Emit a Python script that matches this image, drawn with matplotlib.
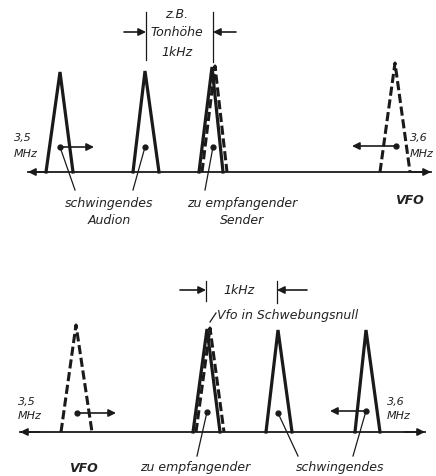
import matplotlib
matplotlib.use("Agg")
import matplotlib.pyplot as plt

# everything in image pixel coordinates (x right, y down)
W, H = 436, 476

# top panel: peaks (apex x, apex y, base left, base right, dashed?)
top_axis_y = 172
top_axis_x = [28, 431]
top_peak_x = [60, 145, 212, 215, 395]
top_peak_top = [72, 71, 67, 66, 63]
top_base_l = [46, 133, 199, 202, 380]
top_base_r = [73, 159, 223, 227, 410]
top_dashed = [False, False, False, True, True]

# bottom panel
bot_axis_y = 432
bot_axis_x = [20, 425]
bot_peak_x = [76, 207, 210, 278, 366]
bot_peak_top = [325, 329, 328, 330, 330]
bot_base_l = [61, 193, 196, 266, 355]
bot_base_r = [92, 220, 224, 292, 380]
bot_dashed = [True, False, True, False, False]

fig = plt.figure(figsize=(W / 100, H / 100), dpi=100)
ax = fig.add_axes([0, 0, 1, 1])
ax.set_xlim(0, W)
ax.set_ylim(H, 0)
ax.axis('off')

txt = dict(fontsize=9, style='italic', color='#222222', ha='center', va='center')
bold = dict(txt, fontweight='bold')
small = dict(txt, fontsize=8, ha='left')


def peaks(xs, tops, ls, rs, dashed, base_y):
    for x, t, l, r, d in zip(xs, tops, ls, rs, dashed):
        if d:
            ax.plot([l, x, r], [base_y, t, base_y], color='#1a1a1a', lw=2.2,
                    ls=(0, (3, 1.2)), solid_joinstyle='miter')
        else:
            ax.plot([l, x, r], [base_y, t, base_y], color='#1a1a1a', lw=2.3,
                    solid_joinstyle='miter')


def arrow(x0, y0, x1, y1, style='-|>', lw=1.2):
    ax.annotate('', xy=(x1, y1), xytext=(x0, y0),
                arrowprops=dict(arrowstyle=style, color='#1a1a1a', lw=lw,
                                mutation_scale=11, shrinkA=0, shrinkB=0))


def dot(x, y):
    ax.plot(x, y, 'o', color='#1a1a1a', ms=3.5)


def leader(x0, y0, x1, y1):
    ax.plot([x0, x1], [y0, y1], color='#1a1a1a', lw=0.9)


# ---------- top panel ----------
arrow(top_axis_x[0] + 20, top_axis_y, top_axis_x[0], top_axis_y)
arrow(top_axis_x[1] - 20, top_axis_y, top_axis_x[1], top_axis_y)
ax.plot(top_axis_x, [top_axis_y] * 2, color='#1a1a1a', lw=1.3)
peaks(top_peak_x, top_peak_top, top_base_l, top_base_r, top_dashed, top_axis_y)

dot(60, 147); arrow(60, 147, 94, 147)
dot(145, 147)
dot(213, 147)
dot(396, 146); arrow(396, 146, 352, 146)
leader(60, 147, 75, 190)
leader(145, 147, 133, 190)
leader(213, 147, 205, 190)

# 1 kHz marker
ax.plot([146, 146], [12, 60], color='#1a1a1a', lw=0.9)
ax.plot([213, 213], [12, 62], color='#1a1a1a', lw=0.9)
arrow(124, 32, 146, 32)
arrow(236, 32, 213, 32)
ax.text(177, 14, 'z.B.', **txt)
ax.text(177, 33, 'Tonhöhe', **txt)
ax.text(177, 53, '1kHz', **txt)

ax.text(14, 138, '3,5', **small)
ax.text(14, 154, 'MHz', **small)
ax.text(410, 138, '3,6', **small)
ax.text(410, 154, 'MHz', **small)

ax.text(109, 204, 'schwingendes', **txt)
ax.text(109, 220, 'Audion', **txt)
ax.text(242, 204, 'zu empfangender', **txt)
ax.text(242, 220, 'Sender', **txt)
ax.text(409, 200, 'VFO', **bold)

# ---------- bottom panel ----------
arrow(bot_axis_x[0] + 20, bot_axis_y, bot_axis_x[0], bot_axis_y)
arrow(bot_axis_x[1] - 20, bot_axis_y, bot_axis_x[1], bot_axis_y)
ax.plot(bot_axis_x, [bot_axis_y] * 2, color='#1a1a1a', lw=1.3)
peaks(bot_peak_x, bot_peak_top, bot_base_l, bot_base_r, bot_dashed, bot_axis_y)

dot(77, 413); arrow(77, 413, 116, 413)
dot(207, 412)
dot(278, 413)
dot(366, 411); arrow(366, 411, 330, 411)
leader(207, 412, 197, 456)
leader(278, 413, 298, 456)
leader(366, 411, 353, 456)

ax.plot([206, 206], [281, 301], color='#1a1a1a', lw=0.9)
ax.plot([277, 277], [281, 303], color='#1a1a1a', lw=0.9)
arrow(180, 290, 206, 290)
arrow(307, 290, 277, 290)
ax.text(239, 291, '1kHz', **txt)
leader(210, 322, 216, 313)
ax.text(217, 316, 'Vfo in Schwebungsnull', **dict(txt, ha='left'))

ax.text(18, 402, '3,5', **small)
ax.text(18, 416, 'MHz', **small)
ax.text(387, 402, '3,6', **small)
ax.text(387, 416, 'MHz', **small)

ax.text(83, 469, 'VFO', **bold)
ax.text(195, 467, 'zu empfangender', **txt)
ax.text(340, 467, 'schwingendes', **txt)

fig.savefig('out.png', dpi=100, facecolor='white')
